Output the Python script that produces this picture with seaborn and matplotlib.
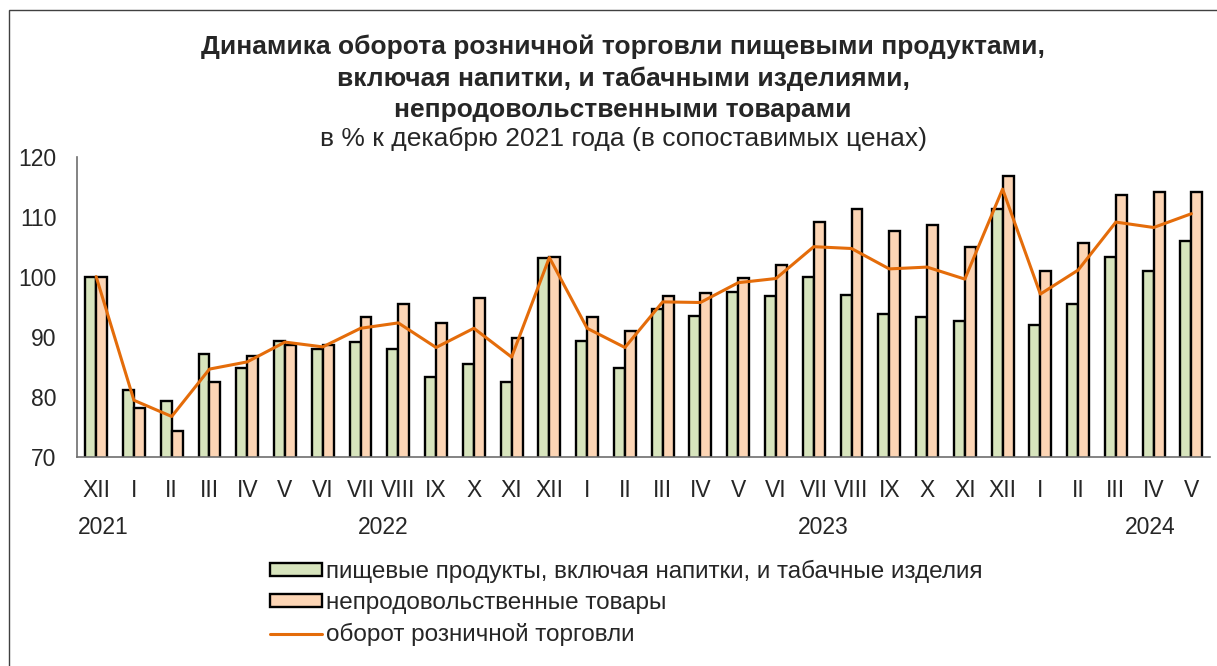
import matplotlib
matplotlib.use("Agg")
import matplotlib.pyplot as plt
import seaborn as sns
import pandas as pd
import numpy as np
from matplotlib.patches import Patch, Rectangle
from matplotlib.lines import Line2D

# months from Dec 2021 to May 2024
months = ["XII", "I", "II", "III", "IV", "V", "VI", "VII", "VIII", "IX", "X", "XI",
          "XII", "I", "II", "III", "IV", "V", "VI", "VII", "VIII", "IX", "X", "XI",
          "XII", "I", "II", "III", "IV", "V"]
food = [100.0, 81.1, 79.2, 87.1, 84.8, 89.3, 88.0, 89.1, 87.9, 83.2, 85.5, 82.4,
        103.1, 89.3, 84.8, 94.6, 93.5, 97.5, 96.8, 100.0, 96.9, 93.8, 93.3, 92.6,
        111.3, 91.9, 95.4, 103.2, 101.0, 105.9]
nonfood = [100.0, 78.1, 74.3, 82.4, 86.7, 88.6, 88.6, 93.2, 95.5, 92.3, 96.4, 89.8,
           103.2, 93.2, 91.0, 96.7, 97.3, 99.8, 101.9, 109.1, 111.3, 107.7, 108.6, 105.0,
           116.8, 101.0, 105.6, 113.6, 114.1, 114.1]
total = [100.0, 79.4, 76.7, 84.6, 85.8, 89.1, 88.3, 91.4, 92.3, 88.2, 91.4, 86.6,
         103.2, 91.4, 88.2, 95.8, 95.7, 99.0, 99.7, 105.0, 104.7, 101.3, 101.6, 99.6,
         114.6, 97.1, 101.1, 109.1, 108.2, 110.5]
years = ["2021", "2022", "2023", "2024"]
year_pos = [0.2, 7.6, 19.25, 27.9]

food_label = "пищевые продукты, включая напитки, и табачные изделия"
nonfood_label = "непродовольственные товары"
total_label = "оборот розничной торговли"

green = "#D7E4BD"
peach = "#FCD5B5"
line_color = "#E46C0A"
axis_gray = "#6E6E6E"

sns.set_style("white")
plt.rcParams['font.family'] = ['Liberation Sans', 'DejaVu Sans']

idx = np.arange(len(months))
df = pd.DataFrame({
    'pos': np.concatenate([idx, idx]),
    'value': food + nonfood,
    'series': [food_label] * len(idx) + [nonfood_label] * len(idx),
})

fig = plt.figure(figsize=(12.17, 6.66), dpi=100)
ax = fig.add_axes([0.0635, 0.3143, 0.931, 0.4504])

sns.barplot(data=df, x='pos', y='value', hue='series', order=list(idx),
            hue_order=[food_label, nonfood_label], palette=[green, peach],
            width=0.58, saturation=1, edgecolor='black', linewidth=1.7,
            legend=False, ax=ax)
ax.plot(idx, total, color=line_color, lw=2.2, zorder=5)

ax.set_xlim(-0.5, len(months) - 0.5)
ax.set_ylim(70, 120)
ax.set_yticks(range(70, 121, 10))
ax.set_xticks(idx)
ax.set_xticklabels(months)
ax.set_xticks(np.arange(-0.5, len(months), 1), minor=True)
ax.set_xlabel("")
ax.set_ylabel("")

for s in ['top', 'right']:
    ax.spines[s].set_visible(False)
for s in ['left', 'bottom']:
    ax.spines[s].set_color(axis_gray)
    ax.spines[s].set_linewidth(1.2)

ax.tick_params(axis='y', direction='inout', length=11, width=1.2, color=axis_gray,
               labelsize=16.5, pad=9.5)
ax.tick_params(axis='x', which='major', length=0, labelsize=16.5, pad=16)
ax.tick_params(axis='x', which='minor', direction='inout', length=9, width=1.2,
               color=axis_gray)

for y, p in zip(years, year_pos):
    ax.text(p, -0.235, y, transform=ax.get_xaxis_transform(), ha='center',
            va='center', fontsize=16.5)

# titles
fig.text(0.512, 1 - 47 / 666, "Динамика оборота розничной торговли пищевыми продуктами,",
         ha='center', va='center', fontsize=19, fontweight='bold')
fig.text(0.512, 1 - 79 / 666, "включая напитки, и табачными изделиями,",
         ha='center', va='center', fontsize=19, fontweight='bold')
fig.text(0.512, 1 - 110 / 666, "непродовольственными товарами",
         ha='center', va='center', fontsize=19, fontweight='bold')
fig.text(0.512, 1 - 139 / 666, "в % к декабрю 2021 года (в сопоставимых ценах)",
         ha='center', va='center', fontsize=19)

handles = [Patch(facecolor=green, edgecolor='black', linewidth=1.7),
           Patch(facecolor=peach, edgecolor='black', linewidth=1.7),
           Line2D([], [], color=line_color, lw=2.2)]
fig.legend(handles, [food_label, nonfood_label, total_label], loc='upper left',
           bbox_to_anchor=(270 / 1217, 1 - 560 / 666), frameon=False, fontsize=17.5,
           handlelength=2.14, handleheight=0.42, handletextpad=0.16, labelspacing=0.37,
           borderaxespad=0, borderpad=0)

# outer frame
fig.patches.append(Rectangle((9 / 1217, -0.05), 1.1, 1 - 10.5 / 666 + 0.05,
                             transform=fig.transFigure, fill=False,
                             edgecolor='#404040', linewidth=1.0))

fig.savefig("out.png", dpi=100)
